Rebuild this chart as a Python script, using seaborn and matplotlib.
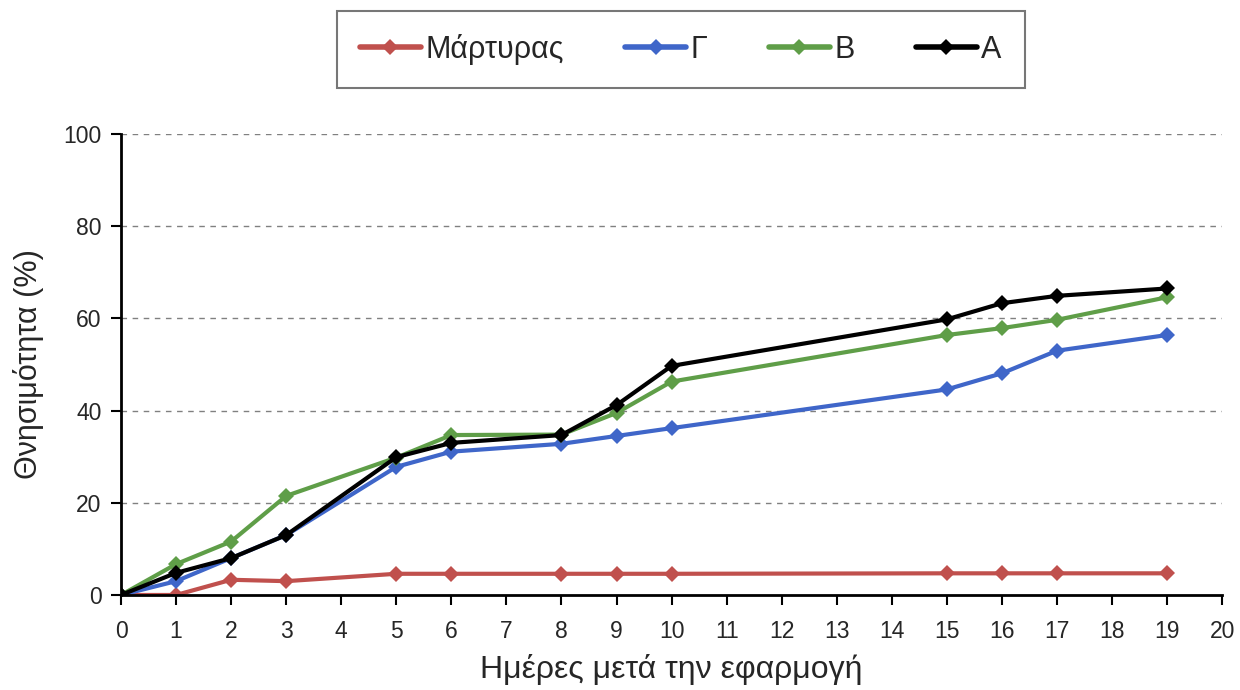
import numpy as np
import pandas as pd
import matplotlib
matplotlib.use("Agg")
import matplotlib.pyplot as plt
import seaborn as sns

days = [0, 1, 2, 3, 5, 6, 8, 9, 10, 15, 16, 17, 19]
control = [0, 0, 3.3, 3.0, 4.6, 4.6, 4.6, 4.6, 4.6, 4.7, 4.7, 4.7, 4.7]
gamma = [0, 3.0, 8.0, 13.0, 27.8, 31.1, 32.8, 34.5, 36.2, 44.6, 48.1, 53.0, 56.4]
beta = [0, 6.7, 11.6, 21.5, 29.8, 34.7, 34.8, 39.5, 46.3, 56.4, 57.9, 59.7, 64.6]
alpha = [0, 4.8, 8.0, 13.0, 29.9, 33.0, 34.7, 41.2, 49.7, 59.8, 63.3, 64.9, 66.5]

series_names = ["Μάρτυρας", "Γ", "Β", "Α"]
series_values = [control, gamma, beta, alpha]
colors = ["#C0504D", "#3F66C9", "#5F9E48", "#000000"]

x_ticks = list(range(0, 21))
y_ticks = [0, 20, 40, 60, 80, 100]
x_label = "Ημέρες μετά την εφαρμογή"
y_label = "Θνησιμότητα (%)"

df = pd.concat(
    [pd.DataFrame({"day": days, "value": v, "series": n}) for n, v in zip(series_names, series_values)],
    ignore_index=True,
)

sns.set_style("white")
plt.rcParams["font.family"] = ["Liberation Sans", "DejaVu Sans"]

fig = plt.figure(figsize=(12.4, 6.9), dpi=100)
ax = fig.add_axes([0.0976, 0.1377, 0.888, 0.668])

sns.lineplot(
    data=df, x="day", y="value", hue="series", hue_order=series_names,
    palette=colors, style="series", markers=["D"] * 4, dashes=False,
    markersize=8, linewidth=3, markeredgewidth=0, ax=ax, legend=True,
)

ax.set_xlim(0, 20)
ax.set_ylim(0, 100)
ax.set_xticks(x_ticks)
ax.set_yticks(y_ticks)
ax.tick_params(axis="both", labelsize=16.5, direction="out", length=7, width=1.5, color="black",
               bottom=True, left=True)
ax.tick_params(axis="x", pad=11)
ax.tick_params(axis="y", pad=7)
ax.set_xlabel(x_label, fontsize=23, labelpad=8)
ax.set_ylabel(y_label, fontsize=22, labelpad=14)

for y in y_ticks[1:]:
    ax.axhline(y, color="#808080", linestyle=(0, (4, 4)), linewidth=1, zorder=0)
ax.grid(False)

sns.despine(ax=ax)
for s in ["left", "bottom"]:
    ax.spines[s].set_color("black")
    ax.spines[s].set_linewidth(2)

handles, labels = ax.get_legend_handles_labels()
for h in handles:
    h.set_linewidth(4)
ax.legend(handles, labels, loc="center", bbox_to_anchor=(0.549, 0.928),
          bbox_transform=fig.transFigure, ncol=4, frameon=True, fancybox=False,
          edgecolor="#555555", fontsize=22, handlelength=2.0, columnspacing=2.0,
          borderpad=0.75, handletextpad=0.15)
leg = ax.get_legend()
leg.get_frame().set_linewidth(1.5)

fig.savefig("out.png", dpi=100)
